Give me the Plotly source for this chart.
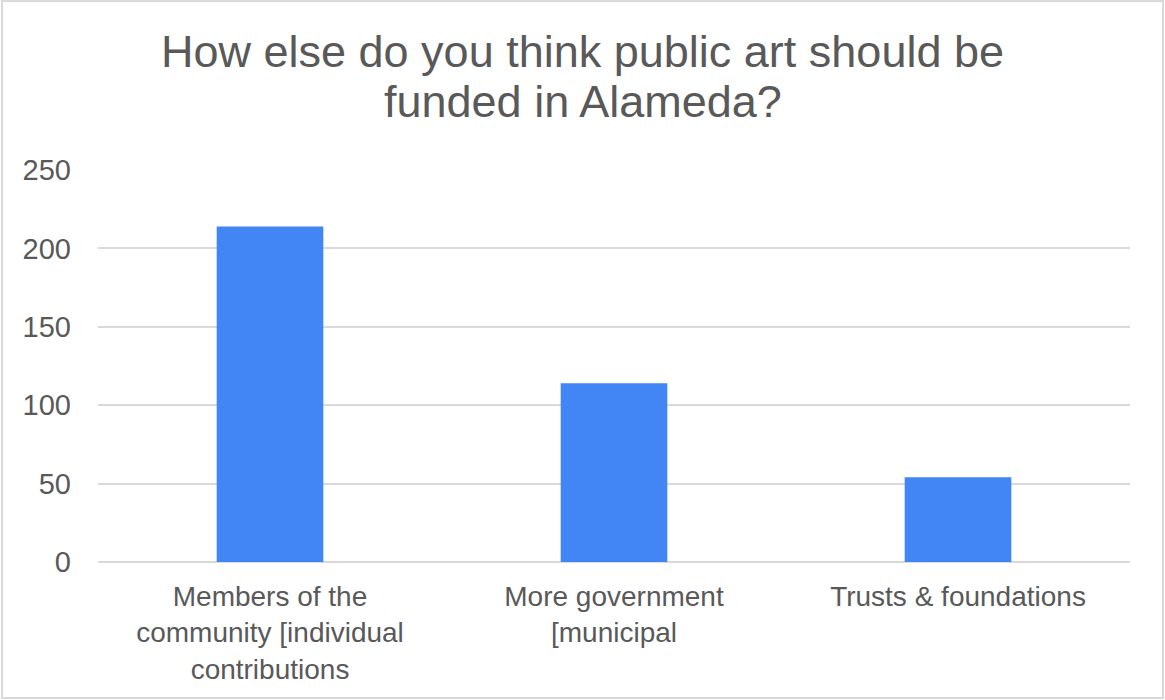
import plotly.graph_objects as go

categories = ["Members of the<br>community [individual<br>contributions",
              "More government<br>[municipal",
              "Trusts & foundations"]
values = [214, 114, 54]
y_ticks = [0, 50, 100, 150, 200, 250]
title_line1 = "How else do you think public art should be"
title_line2 = "funded in Alameda?"

W, H = 1165, 700
ml, mr, mt, mb = 98, 35, 170, 138
pw, ph = W - ml - mr, H - mt - mb

def px(x):
    return (x - ml) / pw

def py(y):
    return (H - mb - y) / ph

fig = go.Figure(go.Bar(x=categories, y=values, marker_color="#4285F4",
                       marker_line_width=0))

fig.update_layout(
    width=W, height=H,
    margin=dict(l=ml, r=mr, t=mt, b=mb),
    paper_bgcolor="white", plot_bgcolor="white",
    bargap=0.69,
    showlegend=False,
    font=dict(family="Liberation Sans, Arial, sans-serif", color="#595959"),
    title=dict(text=title_line1, x=0.5, xref="container", xanchor="center",
               y=1 - 51 / H, yref="container", yanchor="middle",
               font=dict(size=45, color="#595959")),
    annotations=[dict(text=title_line2, x=px(582.5), y=py(101),
                      xref="paper", yref="paper", xanchor="center",
                      yanchor="middle", showarrow=False,
                      font=dict(size=45, color="#595959"))],
    xaxis=dict(showgrid=False, showline=False, zeroline=False,
               tickfont=dict(size=28, color="#595959"), ticklabelstandoff=15),
    yaxis=dict(range=[0, 250], tickvals=y_ticks, showgrid=True,
               gridcolor="#d9d9d9", gridwidth=2, zeroline=True,
               zerolinecolor="#d9d9d9", zerolinewidth=2, showline=False,
               tickfont=dict(size=29, color="#595959"), ticklabelstandoff=26),
    shapes=[dict(type="rect", xref="paper", yref="paper",
                 x0=px(2), x1=px(1163), y0=py(1), y1=py(698),
                 line=dict(color="#d9d9d9", width=2), layer="below")],
)

fig.write_html("out.html", config={"displayModeBar": False},
               post_script="document.body.style.margin='0';document.body.style.overflow='hidden';")
